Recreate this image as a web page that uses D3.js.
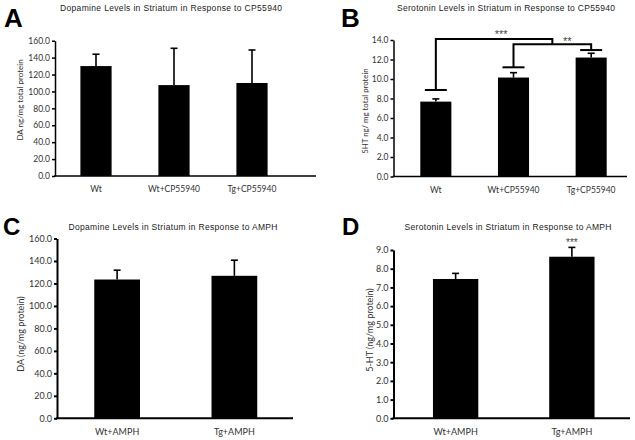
<!DOCTYPE html>
<html><head><meta charset="utf-8">
<script src="https://cdn.jsdelivr.net/npm/d3@7"></script>
<style>body{margin:0;background:#fff}svg{display:block}</style>
</head><body>
<script>
// ---- data ----
const catsA = ["Wt", "Wt+CP55940", "Tg+CP55940"];
const meanA = [130, 107.5, 110];
const errA = [14, 43.5, 39];
const ticksA = [0, 20, 40, 60, 80, 100, 120, 140, 160];

const catsB = ["Wt", "Wt+CP55940", "Tg+CP55940"];
const meanB = [7.68, 10.15, 12.2];
const errB = [0.28, 0.5, 0.44];
const ticksB = [0, 2, 4, 6, 8, 10, 12, 14];
const capLevelB = [8.87, 11.2, 12.97];     // comparison bracket cap levels
const topLevelB = [14.1, 13.56];           // bracket top lines (*** and **)
const sigLabelsB = ["***", "**"];

const catsC = ["Wt+AMPH", "Tg+AMPH"];
const meanC = [123.5, 126.8];
const errC = [8.3, 13.9];
const ticksC = [0, 20, 40, 60, 80, 100, 120, 140, 160];

const catsD = ["Wt+AMPH", "Tg+AMPH"];
const meanD = [7.45, 8.64];
const errD = [0.3, 0.5];
const ticksD = [0, 1, 2, 3, 4, 5, 6, 7, 8, 9];
const sigD = ["", "***"];

const titles = [
  "Dopamine Levels in Striatum in Response to CP55940",
  "Serotonin Levels in Striatum in Response to CP55940",
  "Dopamine Levels in Striatum in Response to AMPH",
  "Serotonin Levels in Striatum in Response to AMPH"
];
const yLabels = ["DA ng/mg total protein", "5HT ng/ mg total protein", "DA (ng/mg protein)", "5-HT  (ng/mg protein)"];
const letters = ["A", "B", "C", "D"];

// ---- drawing ----
const svg = d3.select("body").append("svg").attr("width", 635).attr("height", 440);
const tickFont = "Lato, 'Liberation Sans', sans-serif";
const titleFont = "'Liberation Sans', Arial, sans-serif";

function panel(o) {
  const g = svg.append("g");
  const x = d3.scaleBand().domain(o.cats).range(o.xr).paddingInner(o.pad).paddingOuter(o.pad / 2);
  const y = d3.scaleLinear().domain([0, d3.max(o.ticks)]).range(o.yr);

  g.selectAll("rect.bar").data(o.means).join("rect")
    .attr("x", (d, i) => x(o.cats[i])).attr("width", x.bandwidth())
    .attr("y", d => y(d)).attr("height", d => y(0) - y(d)).attr("fill", "#000");
  o.means.forEach((m, i) => {
    const cx = x(o.cats[i]) + x.bandwidth() / 2;
    g.append("line").attr("x1", cx).attr("x2", cx).attr("y1", y(m)).attr("y2", y(m + o.errs[i]))
      .attr("stroke", "#000").attr("stroke-width", 1.6);
    g.append("line").attr("x1", cx - 3.5).attr("x2", cx + 3.5).attr("y1", y(m + o.errs[i])).attr("y2", y(m + o.errs[i]))
      .attr("stroke", "#000").attr("stroke-width", 1.6);
  });

  const ax = g.append("g").attr("transform", `translate(${o.axX},0)`)
    .call(d3.axisLeft(y).tickValues(o.ticks).tickFormat(d3.format(".1f")).tickSize(3).tickSizeOuter(0));
  ax.select(".domain").attr("stroke-width", o.aw);
  ax.selectAll(".tick line").attr("stroke-width", o.aw);
  ax.selectAll("text").attr("font-family", tickFont).attr("font-size", o.tfs).attr("fill", "#333").attr("x", -5);
  g.append("line").attr("x1", o.axX - o.aw / 2).attr("x2", o.xEnd).attr("y1", y(0)).attr("y2", y(0))
    .attr("stroke", "#000").attr("stroke-width", o.aw);
  g.selectAll("text.xl").data(o.cats).join("text")
    .attr("x", d => x(d) + x.bandwidth() / 2).attr("y", o.xly)
    .attr("text-anchor", "middle").attr("font-family", tickFont).attr("font-size", o.tfs).attr("fill", "#333").text(d => d);
  g.append("text").attr("x", o.tx).attr("y", o.ty).attr("text-anchor", "middle")
    .attr("font-family", titleFont).attr("font-size", 8.5).attr("fill", "#222")
    .attr("textLength", o.tw).attr("lengthAdjust", "spacing").text(o.title);
  g.append("text").attr("x", o.lx).attr("y", o.ly).attr("font-family", titleFont).attr("font-weight", "bold")
    .attr("font-size", o.lfs).attr("fill", "#000").text(o.letter);
  g.append("text").attr("transform", `translate(${o.ylx},${o.yly}) rotate(-90)`).attr("text-anchor", "middle")
    .attr("font-family", tickFont).attr("font-size", o.yfs).attr("fill", "#333").text(o.ylabel);
  return {g, x, y};
}

panel({cats: catsA, means: meanA, errs: errA, ticks: ticksA, xr: [57, 291], pad: 0.6, yr: [176, 40.7],
  axX: 55, xEnd: 316, aw: 1.5, tfs: 8.5, xly: 192, title: titles[0], tx: 171, ty: 11, tw: 222,
  letter: letters[0], lx: 4, ly: 27, lfs: 26, ylabel: yLabels[0], ylx: 23, yly: 100, yfs: 8});

const pB = panel({cats: catsB, means: meanB, errs: errB, ticks: ticksB, xr: [397, 630], pad: 0.6, yr: [176.5, 40],
  axX: 393.5, xEnd: 627, aw: 1.5, tfs: 8.5, xly: 193, title: titles[1], tx: 506, ty: 11, tw: 218,
  letter: letters[1], lx: 341, ly: 27, lfs: 26, ylabel: yLabels[1], ylx: 368, yly: 111, yfs: 7.8});

(function () {
  const {g, x, y} = pB;
  const c = catsB.map(d => x(d) + x.bandwidth() / 2);
  const path = (pts) => g.append("path").attr("d", d3.line()(pts))
    .attr("stroke", "#000").attr("stroke-width", 2).attr("fill", "none");
  capLevelB.forEach((lv, i) => path([[c[i] - 11, y(lv)], [c[i] + 11, y(lv)]]));
  const mid12 = (c[1] + c[2]) / 2;
  path([[c[1], y(capLevelB[1])], [c[1], y(topLevelB[1])], [c[2], y(topLevelB[1])], [c[2], y(capLevelB[2])]]);
  path([[c[0], y(capLevelB[0])], [c[0], y(topLevelB[0])], [mid12, y(topLevelB[0])], [mid12, y(topLevelB[1])]]);
  g.append("text").attr("x", (c[0] + mid12) / 2 + 7).attr("y", y(topLevelB[0]) - 1).attr("text-anchor", "middle")
    .attr("font-family", titleFont).attr("font-size", 11).attr("fill", "#444").text(sigLabelsB[0]);
  g.append("text").attr("x", (c[1] + c[2]) / 2 + 15).attr("y", y(topLevelB[1]) + 0.5).attr("text-anchor", "middle")
    .attr("font-family", titleFont).attr("font-size", 11).attr("fill", "#444").text(sigLabelsB[1]);
})();

panel({cats: catsC, means: meanC, errs: errC, ticks: ticksC, xr: [58.5, 293], pad: 0.61, yr: [418.3, 238.5],
  axX: 57, xEnd: 293, aw: 2, tfs: 9, xly: 435, title: titles[2], tx: 173, ty: 230, tw: 209,
  letter: letters[2], lx: 3, ly: 235, lfs: 24, ylabel: yLabels[2], ylx: 24, yly: 334, yfs: 9});

const pD = panel({cats: catsD, means: meanD, errs: errD, ticks: ticksD, xr: [397.5, 630], pad: 0.61, yr: [418.3, 250],
  axX: 393.5, xEnd: 630, aw: 2, tfs: 9, xly: 435, title: titles[3], tx: 508, ty: 230, tw: 207,
  letter: letters[3], lx: 342, ly: 235, lfs: 24, ylabel: yLabels[3], ylx: 373, yly: 330, yfs: 9});

pD.g.selectAll("text.sig").data(sigD).join("text").attr("class", "sig")
  .attr("x", (d, i) => pD.x(catsD[i]) + pD.x.bandwidth() / 2)
  .attr("y", (d, i) => pD.y(meanD[i] + errD[i]) - 1)
  .attr("text-anchor", "middle").attr("font-family", titleFont).attr("font-size", 10).attr("fill", "#444").text(d => d);
</script>
</body></html>
